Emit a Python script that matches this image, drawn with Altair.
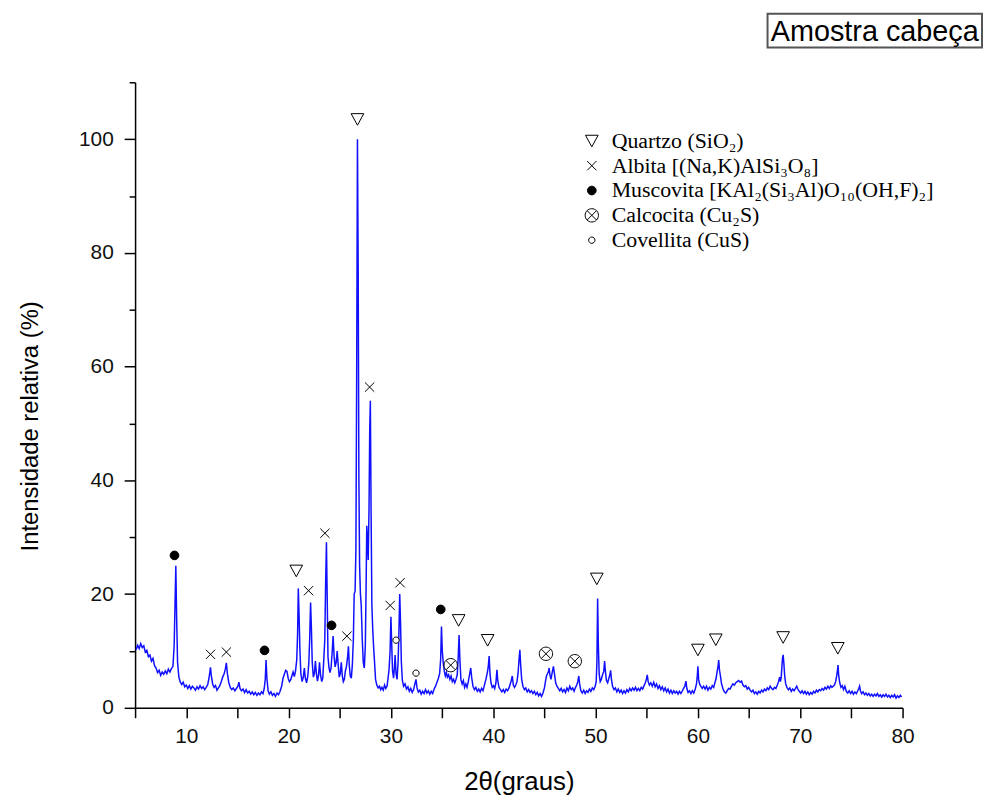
import altair as alt
import pandas as pd

# ---------------- spectrum ----------------
two_theta = [
5.1,5.25,5.4,5.55,5.7,5.85,6.0,6.15,6.3,6.45,6.6,6.75,6.9,7.05,7.2,7.35,7.5,7.65,7.8,7.95,8.1,8.25,8.4,8.55,8.7,8.82,8.9,8.98,9.06,9.15,9.28,9.42,
9.56,9.7,9.85,10.0,10.15,10.3,10.45,10.6,10.75,10.9,11.05,11.2,11.35,11.5,11.65,11.8,11.95,12.1,12.22,12.3,12.37,12.45,12.58,12.72,12.86,13.0,13.14,13.28,13.42,13.56,13.7,13.82,13.92,14.02,14.15,14.3,14.45,14.6,14.75,14.9,15.05,15.15,15.25,15.4,15.55,15.7,15.85,16.0,16.15,16.3,16.45,16.6,16.75,16.9,17.05,17.2,17.35,17.5,17.62,17.72,17.8,17.88,18.0,18.12,18.27,18.42,18.57,18.72,18.87,19.02,19.17,19.32,19.46,19.6,19.72,19.84,19.96,20.08,20.2,20.32,20.44,20.56,20.68,20.8,20.88,20.95,21.03,21.1,21.2,21.32,21.44,21.54,21.64,21.76,21.88,21.98,22.06,22.15,22.23,22.31,22.42,22.52,22.62,22.72,22.82,22.92,23.02,23.12,23.24,23.34,23.44,23.54,23.62,23.7,23.77,23.85,23.95,24.05,24.15,24.25,24.35,24.45,24.55,24.65,24.75,24.85,24.95,25.05,25.15,25.25,25.35,25.45,25.55,25.65,25.77,25.85,25.93,26.03,26.13,26.23,26.33,26.41,26.5,26.58,26.65,26.73,26.8,26.87,26.94,27.02,27.1,27.2,27.3,27.4,27.5,27.58,27.64,27.7,27.78,27.86,27.93,27.99,28.06,28.14,28.22,28.3,28.4,28.5,28.62,28.75,28.88,29.0,29.12,29.25,29.38,29.5,29.62,29.72,29.82,29.92,30.0,30.08,30.16,30.26,30.34,30.41,30.5,30.6,30.7,30.78,30.86,30.94,31.02,31.12,31.24,31.38,31.52,31.66,31.8,31.94,32.08,32.22,32.34,32.45,32.55,32.68,32.82,32.96,33.1,33.24,33.38,33.52,33.66,33.8,33.94,34.08,34.22,34.36,34.5,34.64,34.76,34.86,34.94,35.02,35.12,35.22,35.32,35.42,35.52,35.64,35.76,35.88,36.0,36.12,36.24,36.36,36.48,36.58,36.66,36.74,36.84,36.96,37.08,37.2,37.32,37.44,37.56,37.68,37.8,37.9,38.02,38.16,38.3,38.44,38.58,38.72,38.86,39.0,39.14,39.28,39.4,39.5,39.6,39.68,39.78,39.9,40.02,40.14,40.26,40.36,40.44,40.56,40.7,40.84,40.98,41.12,41.26,41.4,41.54,41.66,41.76,41.86,41.96,42.08,42.2,42.32,42.42,42.52,42.6,42.68,42.78,42.9,43.04,43.18,43.32,43.46,43.6,43.74,43.88,44.02,44.16,44.3,44.44,44.58,44.72,44.86,45.0,45.1,45.2,45.3,45.4,45.46,45.54,45.64,45.76,45.88,45.98,46.1,46.22,46.36,46.5,46.64,46.78,46.92,47.06,47.2,47.34,47.48,47.62,47.76,47.9,48.04,48.16,48.26,48.36,48.44,48.56,48.7,48.84,48.98,49.12,49.26,49.4,49.54,49.68,49.82,49.96,50.06,50.13,50.2,50.27,50.35,50.45,50.56,50.68,50.8,50.88,50.96,51.06,51.18,51.3,51.4,51.47,51.55,51.66,51.8,51.94,52.08,52.22,52.36,52.5,52.64,52.78,52.92,53.06,53.2,53.34,53.48,53.62,53.76,53.9,54.04,54.18,54.32,54.46,54.6,54.74,54.86,54.96,55.05,55.14,55.26,55.4,55.54,55.68,55.82,55.96,56.1,56.24,56.38,56.52,56.66,56.8,56.94,57.08,57.22,57.36,57.5,57.64,57.78,57.92,58.06,58.2,58.34,58.48,58.6,58.72,58.83,58.92,59.04,59.18,59.32,59.46,59.6,59.74,59.86,59.94,60.0,60.07,60.16,60.28,60.42,60.56,60.7,60.84,60.98,61.12,61.26,61.4,61.54,61.66,61.78,61.88,61.96,62.03,62.11,62.2,62.3,62.44,62.58,62.72,62.86,63.0,63.14,63.28,63.42,63.56,63.7,63.84,63.98,64.12,64.26,64.4,64.54,64.68,64.82,64.96,65.1,65.24,65.38,65.52,65.66,65.8,65.94,66.08,66.22,66.36,66.5,66.64,66.78,66.92,67.06,67.2,67.34,67.48,67.62,67.76,67.88,67.98,68.06,68.14,68.2,68.26,68.33,68.4,68.48,68.58,68.7,68.84,68.98,69.12,69.26,69.4,69.54,69.66,69.76,69.9,70.04,70.18,70.32,70.46,70.6,70.74,70.88,71.02,71.16,71.3,71.44,71.58,71.72,71.86,72.0,72.14,72.28,72.42,72.56,72.7,72.84,72.98,73.1,73.22,73.34,73.46,73.56,73.63,73.69,73.76,73.86,73.98,74.1,74.22,74.36,74.5,74.64,74.78,74.92,75.06,75.2,75.34,75.48,75.62,75.72,75.8,75.88,76.0,76.14,76.28,76.42,76.56,76.7,76.84,76.98,77.12,77.26,77.4,77.54,77.68,77.82,77.96,78.1,78.24,78.38,78.52,78.66,78.8,78.94,79.08,79.22,79.36,79.5,79.64,79.78,79.9,
]
intensity = [
10.2,11.0,10.4,11.3,10.6,10.9,9.8,10.1,9.0,9.3,8.2,8.7,7.4,7.0,6.2,6.6,5.7,6.3,5.9,6.5,6.0,6.8,6.3,6.9,7.3,11.0,18.0,25.0,16.0,8.0,5.4,4.5,
4.1,4.5,3.7,4.0,3.4,3.9,3.3,3.8,3.5,3.1,3.7,3.3,3.9,3.4,3.7,3.2,3.6,4.1,5.2,6.2,7.1,5.6,4.2,3.6,3.9,3.1,3.5,3.9,4.6,5.4,6.0,6.8,7.9,6.0,4.5,3.6,3.2,3.5,3.0,3.4,3.8,4.5,3.4,3.0,3.3,2.7,3.2,2.6,2.9,2.4,2.8,2.3,2.7,2.2,2.6,2.3,2.8,2.5,3.4,5.0,8.4,5.2,3.0,2.4,2.8,2.2,2.5,2.0,2.6,2.3,2.9,3.8,5.2,6.0,6.6,6.4,5.2,4.6,4.9,5.6,6.3,5.5,6.5,8.5,13.0,21.0,16.0,10.5,6.0,4.6,5.4,7.0,5.2,4.4,5.6,8.0,12.0,18.5,14.0,8.0,5.4,6.0,8.2,6.0,4.7,5.6,8.0,5.8,4.6,5.2,8.5,12.0,22.0,29.1,20.0,9.0,7.0,6.2,7.0,9.5,12.6,9.0,7.2,8.0,10.0,7.5,5.4,6.0,8.0,5.6,4.6,5.0,6.5,7.2,9.0,10.8,7.5,5.6,5.2,7.5,12.0,20.0,20.5,28.0,57.0,100.0,78.0,40.0,25.0,20.0,18.0,12.0,8.0,7.0,11.0,22.0,32.0,30.0,26.0,35.0,49.0,54.0,35.0,18.0,14.0,11.0,8.0,5.0,4.0,3.5,3.8,3.2,3.6,3.1,4.0,3.4,3.8,5.2,6.8,10.0,16.0,11.0,6.5,5.2,7.0,9.3,6.0,5.0,8.0,13.0,20.0,15.0,8.0,4.8,3.8,4.2,3.3,3.7,2.9,3.4,2.7,3.2,4.2,5.0,3.5,2.8,3.1,2.4,2.9,2.5,3.2,2.6,3.0,2.4,2.9,2.5,3.3,3.8,4.5,5.2,6.0,8.5,14.3,10.0,7.8,6.4,5.6,6.2,5.4,5.8,5.0,5.6,4.6,5.0,4.4,5.0,5.8,9.0,12.8,8.5,5.0,4.2,4.8,3.6,4.2,3.6,4.6,5.8,7.0,5.2,3.8,3.2,3.6,2.9,3.3,2.8,3.4,3.0,4.0,5.0,6.0,7.0,9.1,6.0,4.4,3.6,3.9,3.4,4.4,6.7,4.8,3.6,3.2,2.8,3.2,2.7,3.3,3.0,3.5,4.2,4.8,5.6,4.0,3.6,4.0,4.6,6.0,8.5,10.2,7.5,5.0,3.8,3.2,3.5,2.8,3.2,2.7,3.0,2.5,2.9,2.3,2.7,2.1,2.5,2.0,2.6,3.5,4.6,5.6,6.0,6.4,7.0,5.8,5.0,6.2,7.3,6.0,4.4,3.8,3.4,3.0,3.4,2.8,3.2,2.7,3.5,3.0,3.8,3.2,3.5,2.9,3.6,4.0,4.6,5.6,4.2,3.0,2.6,3.1,2.5,3.0,2.7,3.3,2.9,3.5,3.2,3.8,4.6,8.0,19.2,11.0,6.0,4.6,5.0,5.8,6.4,8.2,6.4,4.8,4.4,5.2,5.8,6.6,5.0,3.8,3.2,3.5,2.8,3.3,2.7,3.1,2.5,3.0,2.6,3.2,2.8,3.4,3.0,3.5,3.1,3.6,3.0,3.4,3.0,3.6,3.3,3.9,4.4,5.0,5.8,4.6,4.0,4.4,3.8,4.5,3.7,4.2,3.4,3.9,3.2,3.7,3.0,3.5,2.8,3.3,2.6,3.1,2.5,3.0,2.6,2.9,2.4,2.9,2.5,3.0,3.4,3.8,4.7,3.4,2.7,3.0,2.5,3.0,2.6,3.3,4.2,5.6,7.3,5.0,4.2,3.8,3.4,3.8,3.3,3.8,3.1,3.6,3.3,3.9,3.6,4.4,5.2,6.4,7.2,8.4,6.6,5.6,4.3,3.4,2.8,2.6,3.0,3.4,3.3,3.8,4.2,4.0,4.4,4.6,4.8,4.5,4.7,4.0,3.7,3.9,3.3,3.6,3.1,2.8,3.1,2.5,2.8,2.4,2.9,2.6,3.1,2.8,3.3,3.0,3.5,3.2,3.8,3.4,3.2,3.6,3.4,4.0,4.6,5.4,4.6,5.4,7.0,8.6,9.3,7.8,5.6,4.2,3.6,3.2,3.5,2.9,3.3,3.0,3.4,3.8,3.3,2.9,2.6,3.0,2.5,2.9,2.4,2.8,2.3,2.7,2.4,2.9,2.6,3.1,2.8,3.2,3.0,3.4,3.1,3.6,3.3,3.8,3.4,3.9,3.6,3.8,4.0,4.6,5.6,6.5,7.5,5.6,4.4,3.6,3.9,3.2,3.8,2.9,2.6,3.0,2.5,2.9,2.4,2.8,2.5,3.0,3.4,3.8,3.0,2.5,2.8,2.3,2.6,2.2,2.5,2.1,2.4,2.0,2.4,2.1,2.5,2.0,2.3,1.9,2.3,2.0,2.4,1.9,2.2,1.8,2.2,1.9,2.3,1.7,2.1,1.8,2.2,1.9,
]
assert len(two_theta) == len(intensity)

# ---------------- phase markers ----------------
phase_names = [
    "Quartzo (SiO₂)",
    "Albita [(Na,K)AlSi₃O₈]",
    "Muscovita [KAl₂(Si₃Al)O₁₀(OH,F)₂]",
    "Calcocita (Cu₂S)",
    "Covellita (CuS)",
]
quartzo_x = [20.75, 26.73, 36.62, 39.45, 50.12, 60.0, 61.75, 68.33, 73.67]
quartzo_y = [24.1, 103.5, 15.4, 11.9, 22.7, 10.2, 12.0, 12.4, 10.5]
albita_x = [12.37, 13.92, 21.95, 23.55, 25.7, 27.92, 29.93, 30.9]
albita_y = [9.4, 9.8, 20.6, 30.7, 12.6, 56.4, 18.0, 22.0]
muscovita_x = [8.85, 17.65, 24.2, 34.87]
muscovita_y = [26.8, 10.1, 14.5, 17.3]
calcocita_x = [35.84, 45.15, 47.97]
calcocita_y = [7.5, 9.5, 8.2]
covellita_x = [30.5, 32.45]
covellita_y = [11.9, 6.1]

x_ticks = list(range(5, 81, 5))
y_ticks = list(range(0, 111, 10))

shape_range = [
    "M-0.9,-0.8L0.9,-0.8L0,0.85Z",
    "M-0.66,-0.66L0.66,0.66M-0.66,0.66L0.66,-0.66",
    "M-0.62,0A0.62 0.62 0 1 0 0.62,0A0.62 0.62 0 1 0 -0.62,0Z",
    "M-0.95,0A0.95 0.95 0 1 0 0.95,0A0.95 0.95 0 1 0 -0.95,0ZM-0.66,-0.66L0.66,0.66M-0.66,0.66L0.66,-0.66",
    "M-0.45,0A0.45 0.45 0 1 0 0.45,0A0.45 0.45 0 1 0 -0.45,0Z",
]
fill_range = ["white", "white", "black", "white", "white"]
stroke_range = ["black", "black", "black", "black", "black"]

spec_df = pd.DataFrame({"tt": two_theta, "I": intensity})
rows = []
for name, xs, ys in zip(
    phase_names,
    [quartzo_x, albita_x, muscovita_x, calcocita_x, covellita_x],
    [quartzo_y, albita_y, muscovita_y, calcocita_y, covellita_y],
):
    for a, b in zip(xs, ys):
        rows.append({"fase": name, "tt": a, "I": b})
marker_df = pd.DataFrame(rows)

FONT = "Liberation Sans"
x_scale = alt.Scale(domain=[5, 80], nice=False, zero=False)
y_scale = alt.Scale(domain=[0, 110], nice=False)

x_axis = alt.Axis(
    values=x_ticks, format="d",
    labelExpr="datum.value % 10 === 0 ? datum.label : ''",
    grid=False, domainColor="black", domainWidth=1.5,
    tickColor="black", tickWidth=1.5, tickSize=10,
    labelFont=FONT, labelFontSize=21, labelColor="#111111", labelPadding=8,
    labelFlush=False, labelOverlap=False,
    titleFont=FONT, titleFontSize=26, titleFontWeight="normal", titleColor="black",
    titlePadding=22,
)
y_axis = alt.Axis(
    values=y_ticks, format="d",
    labelExpr="datum.value % 20 === 0 ? datum.label : ''",
    grid=False, domainColor="black", domainWidth=1.5,
    tickColor="black", tickWidth=1.5,
    tickSize={"condition": {"test": "datum.value % 20 === 0", "value": 11}, "value": 6},
    labelFont=FONT, labelFontSize=21, labelColor="#111111", labelPadding=11,
    labelOverlap=False,
    titleFont=FONT, titleFontSize=24, titleFontWeight="normal", titleColor="black",
    titleAngle=270, titleX=-105, titleY=346, titleAlign="center", titleBaseline="middle",
)

line = alt.Chart(spec_df).mark_line(color="#1010ff", strokeWidth=1.5).encode(
    x=alt.X("tt:Q", scale=x_scale, axis=x_axis, title="2θ(graus)"),
    y=alt.Y("I:Q", scale=y_scale, axis=y_axis, title="Intensidade relativa (%)"),
)

leg = dict(
    orient="none", legendX=449, legendY=48, title=None, padding=0,
    labelFont="Liberation Serif", labelFontSize=22, labelColor="black", labelLimit=600,
    symbolSize=200, symbolStrokeColor="black", symbolStrokeWidth=1,
    rowPadding=3, labelOffset=9,
)
points = alt.Chart(marker_df).mark_point(
    filled=False, color="black", strokeWidth=1, size=200, opacity=1
).encode(
    x=alt.X("tt:Q", scale=x_scale),
    y=alt.Y("I:Q", scale=y_scale),
    shape=alt.Shape("fase:N", scale=alt.Scale(domain=phase_names, range=shape_range), legend=alt.Legend(**leg)),
    fill=alt.Fill("fase:N", scale=alt.Scale(domain=phase_names, range=fill_range), legend=alt.Legend(**leg)),
    stroke=alt.Stroke("fase:N", scale=alt.Scale(domain=phase_names, range=stroke_range), legend=alt.Legend(**leg)),
)

box_title = ["Amostra cabeça"]
box = alt.Chart(alt.Data(values=[{"t": box_title[0]}])).mark_rect(
    fill="white", stroke="#555555", strokeWidth=2
).encode(x=alt.value(637), x2=alt.value(853), y=alt.value(-69), y2=alt.value(-35))
box_text = alt.Chart(alt.Data(values=[{"t": box_title[0]}])).mark_text(
    font=FONT, fontSize=29, color="black", align="center", baseline="middle"
).encode(text="t:N", x=alt.value(745), y=alt.value(-51))

chart = alt.layer(line, points, box, box_text).properties(
    width=773, height=630,
    autosize=alt.AutoSizeParams(type="none"),
    padding={"left": 128, "top": 72, "right": 81, "bottom": 88},
).configure_view(stroke=None)

chart.save("out.html", embed_options={"renderer": "svg", "actions": False})
